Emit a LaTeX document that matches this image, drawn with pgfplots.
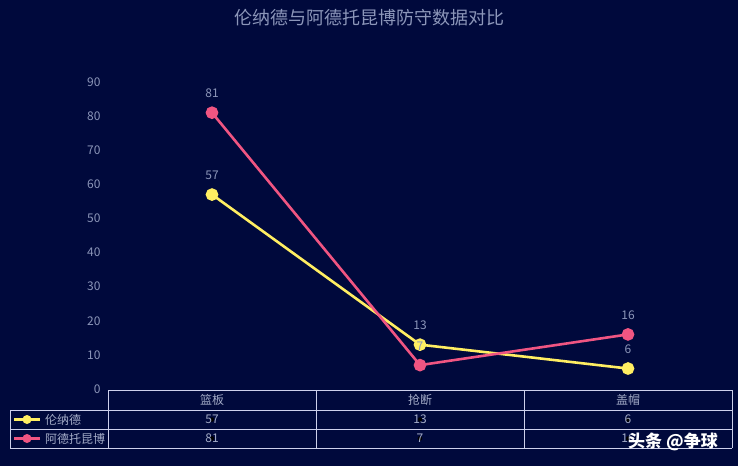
\documentclass[border=0pt]{standalone}
\usepackage{pgfplots}
\pgfplotsset{compat=1.18}
\usepackage{pgfplotstable}
\usepackage{fontspec}
\setmainfont{Noto Sans CJK SC}

\definecolor{bg}{RGB}{0,9,60}
\definecolor{txt}{RGB}{140,150,185}
\definecolor{grid}{RGB}{205,208,235}
\definecolor{yel}{RGB}{255,238,98}
\definecolor{pnk}{RGB}{240,85,130}

% x: 0 = 篮板, 1 = 抢断, 2 = 盖帽
\pgfplotstableread{
x a  b
0 57 81
1 13 7
2 6  16
}\defdata

\begin{document}
\begin{tikzpicture}[x=1pt,y=1pt]
\fill[bg] (0,0) rectangle (738,466);
\useasboundingbox (0,0) rectangle (738,466);

\node[text=txt, font=\fontsize{18}{20}\selectfont] at (369,448) {伦纳德与阿德托昆博防守数据对比};

\begin{axis}[
  at={(212pt,77pt)}, anchor=origin,
  scale only axis, width=624pt, height=307pt,
  xmin=-0.5, xmax=2.5, ymin=0, ymax=90,
  axis line style={draw=none},
  major tick length=0pt,
  xtick=\empty,
  ytick={0,10,...,90},
  yticklabel style={text=txt, font=\fontsize{12}{14}\selectfont, xshift=-4pt},
  /pgf/number format/assume math mode=true,
  clip=false,
  every node near coord/.append style={anchor=center,
    text=txt, font=\fontsize{12}{14}\selectfont},
]
\addplot[yel, line width=2.6pt, mark=*, mark size=5pt,
  nodes near coords, nodes near coords style={yshift=19pt}]
  table[x=x, y=a] {\defdata};
\addplot[pnk, line width=2.6pt, mark=*, mark size=5pt,
  nodes near coords, nodes near coords style={yshift=19pt}]
  table[x=x, y=b] {\defdata};

% data table below the chart
\addplot[only marks, mark=*, mark options={draw=none, fill=none},
  nodes near coords, point meta=explicit,
  nodes near coords style={text=txt!80!white}]
  table[x=x, y expr=-8.95, meta=a] {\defdata};
\addplot[only marks, mark=*, mark options={draw=none, fill=none},
  nodes near coords, point meta=explicit,
  nodes near coords style={text=txt!80!white}]
  table[x=x, y expr=-14.5, meta=b] {\defdata};
\end{axis}

% table grid
\begin{scope}[draw=grid, line width=0.8pt]
\draw (108,76) -- (732,76);
\draw (10,56) -- (732,56);
\draw (10,37) -- (732,37);
\draw (10,18) -- (732,18);
\draw (10,56) -- (10,18);
\foreach \xx in {108,316,524,732} \draw (\xx,76) -- (\xx,18);
\end{scope}

\begin{scope}[font=\fontsize{12}{14}\selectfont, text=txt!80!white]
\node at (212,66) {篮板};
\node at (420,66) {抢断};
\node at (628,66) {盖帽};
\draw[yel, line width=2.6pt] (14,46.5) -- (40,46.5);
\fill[yel] (27,46.5) circle (4.5);
\node[anchor=west, inner sep=0pt] at (45,46.5) {伦纳德};
\draw[pnk, line width=2.6pt] (14,27.5) -- (40,27.5);
\fill[pnk] (27,27.5) circle (4.5);
\node[anchor=west, inner sep=0pt] at (45,27.5) {阿德托昆博};
\end{scope}

\node[text=white, font=\fontsize{17}{19}\selectfont\bfseries] at (673,24) {头条 @争球};
\end{tikzpicture}
\end{document}
